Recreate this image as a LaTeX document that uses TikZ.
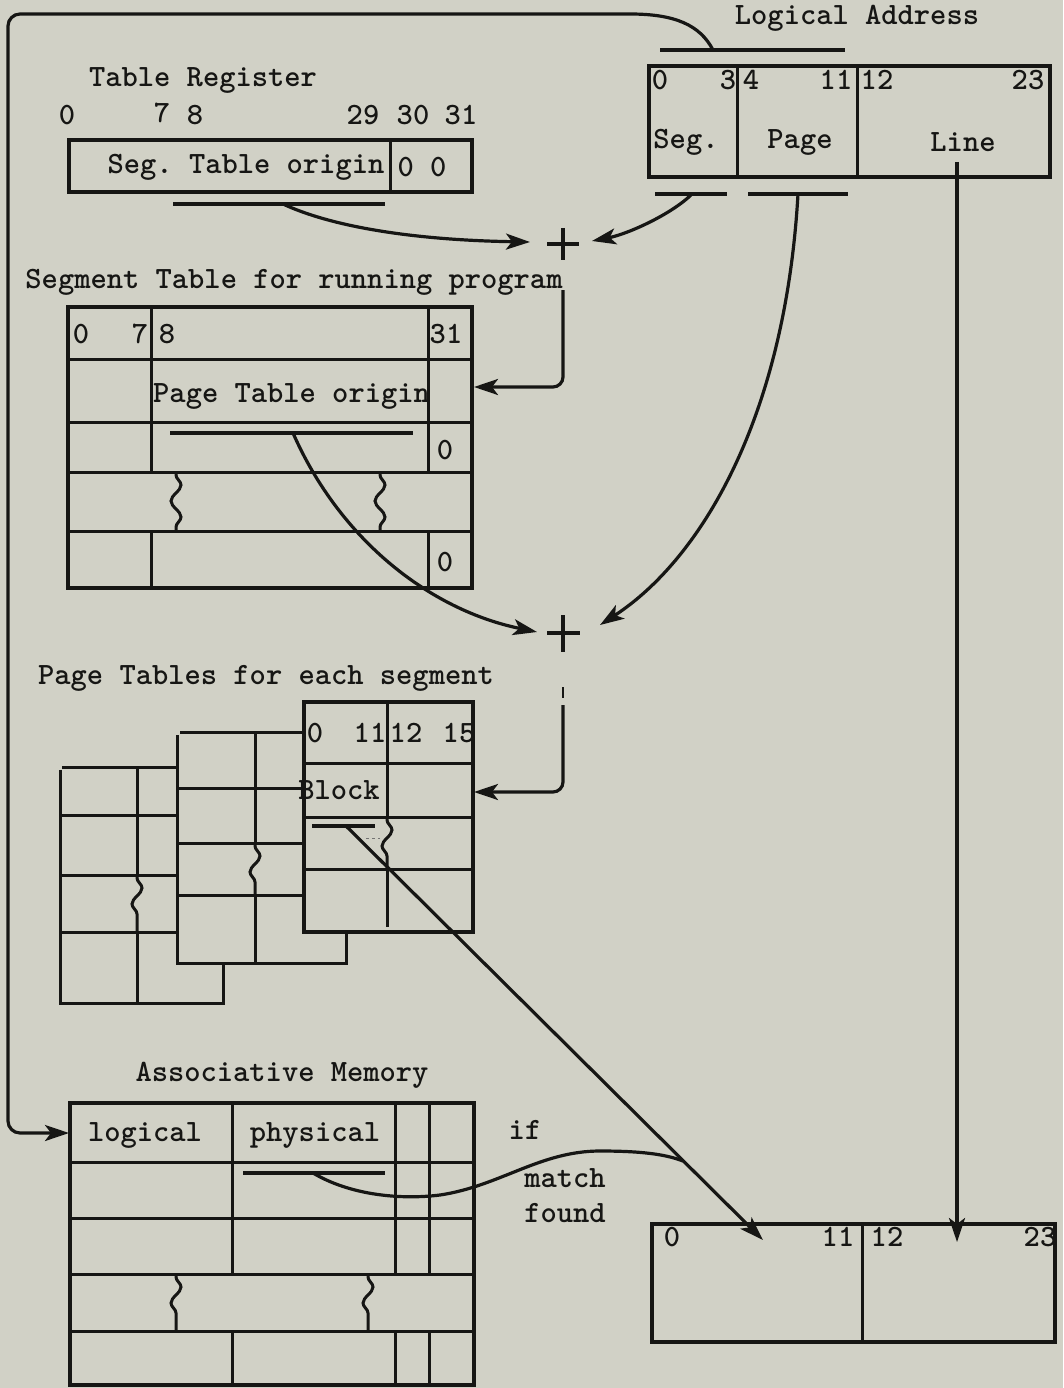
\documentclass[tikz,border=0pt]{standalone}
\usetikzlibrary{arrows.meta,decorations.pathmorphing}
\definecolor{paper}{RGB}{209,209,198}
\definecolor{ink}{RGB}{22,22,20}
\begin{document}
\begin{tikzpicture}[x=1pt,y=-1pt,
  box/.style={draw=ink,line width=3.3pt},
  grid/.style={draw=ink,line width=3pt},
  conn/.style={draw=ink,line width=3.2pt},
  arr/.style={-{Stealth[length=24pt,width=16pt,inset=6pt]}},
  bar/.style={draw=ink,line width=3.2pt},
  wav/.style={draw=ink,line width=3pt,decorate,decoration={snake,amplitude=5pt,segment length=32pt,pre length=3pt,post length=3pt}},
  lbl/.style={font=\ttfamily\bfseries\fontsize{31}{35}\selectfont\frenchspacing,inner sep=0pt,text=ink},
  ]
\fill[paper] (0,0) rectangle (1063,1388);
\useasboundingbox (0,0) rectangle (1063,1388);

% ---------- Logical Address ----------
\node[lbl] (latitle) at (857,18) {Logical Address};
\draw[box] (649,66) rectangle (1050,177);
\draw[grid] (737,66) -- (737,177) (857,66) -- (857,177);
\node[lbl] (la0) at (660,80) {0};
\node[lbl] (la3) at (728,80) {3};
\node[lbl] (la4) at (751,80) {4};
\node[lbl] (la11) at (836,80) {11};
\node[lbl] (la12) at (877,80) {12};
\node[lbl] (la23) at (1028,80) {23};
\node[lbl] (laseg) at (686,142) {Seg.};
\node[lbl] (lapage) at (800,142) {Page};
\node[lbl] (laline) at (963,142) {Line};
\draw[bar] (660,50) -- (845,50);
\coordinate (labar) at (713,50);
\draw[bar] (655,194) -- (727,194);
\coordinate (segbar) at (692,194);
\draw[bar] (748,194) -- (848,194);
\coordinate (pagebar) at (798,194);
\coordinate (linetop) at (957,162);

% ---------- Table Register ----------
\node[lbl] (trtitle) at (203,80) {Table Register};
\node[lbl] (tr0) at (67,115) {0};
\node[lbl] (tr7) at (162,113) {7};
\node[lbl] (tr8) at (195,115) {8};
\node[lbl] (tr29) at (363,115) {29};
\node[lbl] (tr30) at (413,115) {30};
\node[lbl] (tr31) at (461,115) {31};
\draw[box] (69,140) rectangle (472,192);
\draw[grid] (390,140) -- (390,192);
\node[lbl] (trorig) at (246,167) {Seg. Table origin};
\node[lbl] (trzero) at (422,167) {0 0};
\draw[bar] (173,204) -- (385,204);
\coordinate (trbar) at (283,204);

% ---------- plus 1 ----------
\draw[ink,line width=3.2pt] (547,244) -- (579,244) (563,228) -- (563,260);
\coordinate (p1w) at (530,242);
\coordinate (p1e) at (592,241);
\coordinate (p1s) at (563,290);

% ---------- Segment Table ----------
\node[lbl] (sttitle) at (294,282) {Segment Table for running program};
\draw[box] (68,307) rectangle (472,588);
\draw[grid] (68,359) -- (472,359) (68,422) -- (472,422) (68,472) -- (472,472) (68,531) -- (472,531);
\draw[grid] (151,307) -- (151,472) (151,531) -- (151,588)
            (428,307) -- (428,472) (428,531) -- (428,588);
\draw[wav] (176,472) -- (176,531);
\draw[wav] (380,472) -- (380,531);
\node[lbl] (st0) at (81,334) {0};
\node[lbl] (st7) at (140,334) {7};
\node[lbl] (st8) at (167,334) {8};
\node[lbl] (st31) at (446,334) {31};
\node[lbl,anchor=west] (storig) at (153,396) {Page Table origin};
\node[lbl] (stz1) at (445,450) {0};
\node[lbl] (stz2) at (445,562) {0};
\draw[bar] (170,433) -- (413,433);
\coordinate (ptbar) at (293,433);
\coordinate (stin) at (474,387);

% ---------- plus 2 ----------
\draw[ink,line width=3.2pt] (547,633) -- (580,633) (563,615) -- (563,652);
\coordinate (p2w) at (537,632);
\coordinate (p2e) at (600,625);
\draw[ink,line width=2.8pt] (563,687) -- (563,698);
\coordinate (p2s) at (563,705);

% ---------- Page Tables ----------
\node[lbl] (pttitle) at (266,678) {Page Tables for each segment};
% back table
\draw[grid] (62,767) -- (177,767);
\draw[grid] (60,770) -- (60,1003) -- (223,1003) -- (223,963);
\draw[grid] (60,815) -- (177,815) (60,875) -- (177,875) (60,932) -- (177,932);
\draw[grid] (137,767) -- (137,875) (137,932) -- (137,1003);
\draw[wav] (137,875) -- (137,932);
% middle table
\draw[grid] (180,732) -- (304,732);
\draw[grid] (177,735) -- (177,963) -- (346,963) -- (346,932);
\draw[grid] (177,788) -- (304,788) (177,843) -- (304,843) (177,895) -- (304,895);
\draw[grid] (255,732) -- (255,843) (255,895) -- (255,963);
\draw[wav] (255,843) -- (255,895);
% front table
\draw[box] (304,702) rectangle (473,932);
\draw[grid] (304,763) -- (473,763) (304,817) -- (473,817) (304,869) -- (473,869);
\draw[grid] (387,702) -- (387,817) (387,869) -- (387,927);
\draw[wav] (387,817) -- (387,869);
\node[lbl] (pt0) at (315,733) {0};
\node[lbl] (pt11) at (370,733) {11};
\node[lbl] (pt12) at (406,733) {12};
\node[lbl] (pt15) at (459,733) {15};
\node[lbl] (ptblock) at (339,790) {Block};
\draw[bar] (312,826) -- (375,826);
\draw[ink!60,line width=1pt,dashed] (366,838) -- (380,838);
\coordinate (blkbar) at (346,826);
\coordinate (ptin) at (474,792);

% ---------- Associative Memory ----------
\node[lbl] (amtitle) at (282,1075) {Associative Memory};
\draw[box] (70,1103) rectangle (474,1385);
\draw[grid] (70,1162) -- (474,1162) (70,1218) -- (474,1218) (70,1274) -- (474,1274) (70,1331) -- (474,1331);
\draw[grid] (232,1103) -- (232,1274) (232,1331) -- (232,1385)
            (395,1103) -- (395,1274) (395,1331) -- (395,1385)
            (429,1103) -- (429,1274) (429,1331) -- (429,1385);
\draw[wav] (176,1274) -- (176,1331);
\draw[wav] (368,1274) -- (368,1331);
\node[lbl] (amlog) at (145,1135) {logical};
\node[lbl] (amphys) at (315,1135) {physical};
\draw[bar] (243,1173) -- (385,1173);
\coordinate (physbar) at (313,1173);
\coordinate (amin) at (69,1133);
\node[lbl] (tif) at (525,1130) {if};
\node[lbl] (tmatch) at (565,1178) {match};
\node[lbl] (tfound) at (565,1213) {found};

% ---------- Physical address box ----------
\draw[box] (652,1224) rectangle (1055,1342);
\draw[grid] (862,1224) -- (862,1342);
\node[lbl] (pa0) at (672,1237) {0};
\node[lbl] (pa11) at (838,1237) {11};
\node[lbl] (pa12) at (887,1237) {12};
\node[lbl] (pa23) at (1040,1237) {23};
\coordinate (pablk) at (763,1240);
\coordinate (paline) at (957,1242);
\coordinate (join) at (683,1161);

% ---------- connectors ----------
\draw[conn,arr] (labar) .. controls (700,25) and (675,14) .. (630,14)
   [rounded corners=12pt] -- (8,14) -- (8,1133) -- (amin);
\draw[conn,arr] (trbar) .. controls (330,226) and (410,240) .. (p1w);
\draw[conn,arr] (segbar) .. controls (672,214) and (628,234) .. (p1e);
\draw[conn,arr,rounded corners=10pt] (p1s) -- (563,387) -- (stin);
\draw[conn,arr] (pagebar) .. controls (785,420) and (700,560) .. (p2e);
\draw[conn,arr] (ptbar) .. controls (340,540) and (430,610) .. (p2w);
\draw[conn,arr,rounded corners=10pt] (p2s) -- (563,792) -- (ptin);
\draw[conn,arr] (blkbar) -- (pablk);
\draw[conn] (physbar) .. controls (350,1195) and (400,1200) .. (440,1195)
   .. controls (500,1186) and (540,1151) .. (600,1151)
   .. controls (640,1151) and (665,1154) .. (join);
\draw[conn,arr] (linetop) -- (paline);
\end{tikzpicture}
\end{document}
